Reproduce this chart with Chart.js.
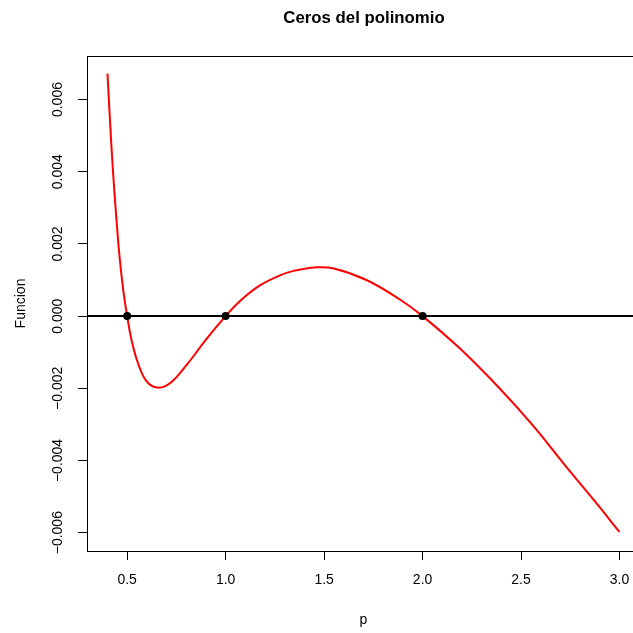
<!DOCTYPE html>
<html>
<head>
<meta charset="utf-8">
<script src="https://cdn.jsdelivr.net/npm/chart.js@4.4.0/dist/chart.umd.min.js"></script>
<style>
  html, body { margin: 0; padding: 0; overflow: hidden; background: #fff; }
  canvas { display: block; }
</style>
</head>
<body>
<canvas id="grafico" width="728" height="633"></canvas>
<script>
const p = [0.400, 0.421, 0.438, 0.460, 0.480, 0.500, 0.522, 0.556, 0.598, 0.653,
           0.717, 0.802, 0.903, 1.000, 1.073, 1.174, 1.276, 1.350, 1.453, 1.550,
           1.715, 1.885, 2.000, 2.190, 2.394, 2.563, 2.733, 2.870, 3.000]
const funcion = [0.00672, 0.00462, 0.00323, 0.00172, 0.00072, 0.00000, -0.00066, -0.00132, -0.00180, -0.00198,
                 -0.00186, -0.00135, -0.00063, 0.00000, 0.00042, 0.00085, 0.00113, 0.00126, 0.00135, 0.00132,
                 0.00100, 0.00046, 0.00000, -0.00090, -0.00202, -0.00305, -0.00420, -0.00510, -0.00598]

// ceros del polinomio (puntos negros)
const raices = [0.5, 1.0, 2.0]

// rango de los ejes (datos + 4%, como en R)
const xMin = 0.296, xMax = 3.104
const yMin = -0.006508, yMax = 0.007208
const pasoX = 0.5
const pasoY = 0.002

const fuente = '"Liberation Sans", Arial, Helvetica, sans-serif'
Chart.defaults.font.family = fuente
Chart.defaults.font.size = 14
Chart.defaults.color = '#000'

// ancho de la etiqueta mas larga del eje y, para centrar las etiquetas giradas
const medir = document.createElement('canvas').getContext('2d')
medir.font = '14px ' + fuente
const anchoY = medir.measureText('\u22120.006').width
const padY = 87 - 9 - 57.8 - anchoY / 2

// caja alrededor del grafico (box() de R)
const marco = {
    id: 'marco',
    afterDraw(chart) {
        const a = chart.chartArea
        const ctx = chart.ctx
        ctx.save()
        ctx.strokeStyle = '#000'
        ctx.lineWidth = 1
        ctx.strokeRect(Math.round(a.left) + 0.5, Math.round(a.top) + 0.5,
                       Math.round(a.right - a.left), Math.round(a.bottom - a.top))
        ctx.restore()
    }
}

function etiqueta(v, dec) {
    if (Math.abs(v) < 1e-12) v = 0
    return v.toFixed(dec).replace('-', '\u2212')
}

new Chart(document.getElementById('grafico'), {
    type: 'scatter',
    data: {
        datasets: [
            {
                label: 'ceros',
                data: raices.map(r => ({ x: r, y: 0 })),
                pointRadius: 4,
                pointBackgroundColor: '#000',
                pointBorderColor: '#000',
                pointBorderWidth: 0,
                order: 0
            },
            {
                label: 'h = 0',
                data: [{ x: xMin, y: 0 }, { x: xMax, y: 0 }],
                showLine: true,
                borderColor: '#000',
                borderWidth: 2,
                pointRadius: 0,
                order: 1
            },
            {
                label: 'Funcion',
                data: p.map((v, i) => ({ x: v, y: funcion[i] })),
                showLine: true,
                borderColor: '#ff0000',
                borderWidth: 2,
                pointRadius: 0,
                tension: 0.4,
                order: 2
            }
        ]
    },
    options: {
        responsive: false,
        animation: false,
        devicePixelRatio: 1,
        layout: { padding: 0 },
        plugins: {
            legend: { display: false },
            tooltip: { enabled: false },
            title: {
                display: true,
                text: 'Ceros del polinomio',
                font: { size: 16.8, weight: 'bold' },
                padding: { top: 8, bottom: 27.8 }
            }
        },
        scales: {
            x: {
                type: 'linear',
                min: xMin,
                max: xMax,
                afterFit: s => { s.height = 82 },
                border: { display: false },
                grid: { drawOnChartArea: false, drawTicks: true, tickLength: 9, color: '#000', lineWidth: 1 },
                ticks: {
                    stepSize: pasoX,
                    includeBounds: false,
                    autoSkip: false,
                    maxRotation: 0,
                    padding: 11.6,
                    callback: v => etiqueta(v, 1)
                },
                title: { display: true, text: 'p', padding: { top: 0, bottom: 4 } }
            },
            y: {
                type: 'linear',
                min: yMin,
                max: yMax,
                afterFit: s => { s.width = 87 },
                border: { display: false },
                grid: { drawOnChartArea: false, drawTicks: true, tickLength: 9, color: '#000', lineWidth: 1 },
                ticks: {
                    stepSize: pasoY,
                    includeBounds: false,
                    autoSkip: false,
                    minRotation: 90,
                    maxRotation: 90,
                    crossAlign: 'center',
                    padding: padY,
                    callback: v => etiqueta(v, 3)
                },
                title: { display: true, text: 'Funcion', padding: { top: 12.4, bottom: 0 } }
            },
            // margen derecho vacio (la figura queda cortada a la derecha)
            margen: {
                type: 'linear',
                position: 'right',
                afterFit: s => { s.width = 88 },
                border: { display: false },
                grid: { display: false },
                ticks: { display: false }
            }
        }
    },
    plugins: [marco]
})
</script>
</body>
</html>
